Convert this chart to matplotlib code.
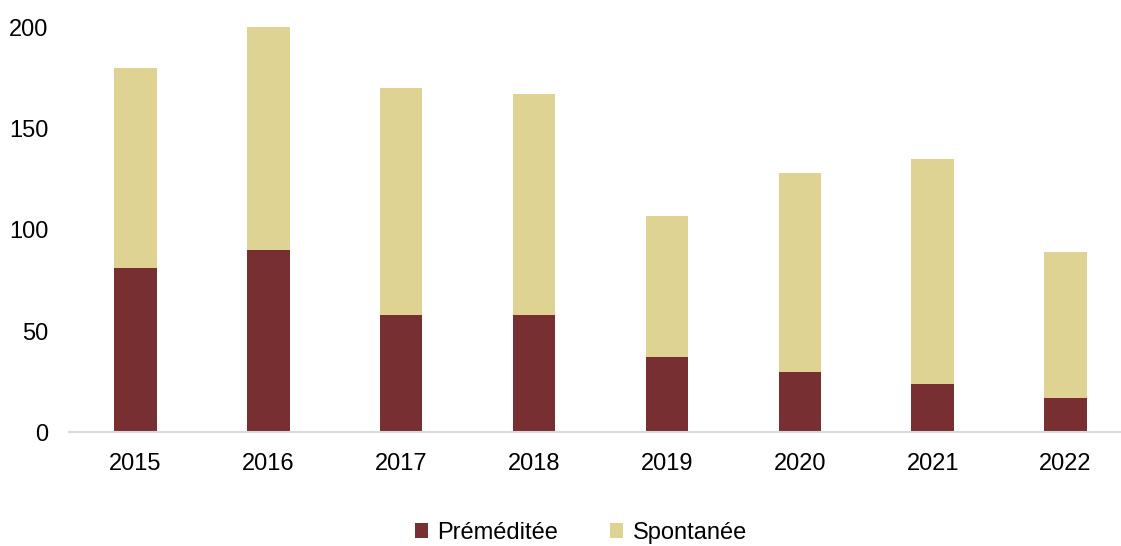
import matplotlib.pyplot as plt
import numpy as np

plt.rcParams['font.family'] = ['Liberation Sans', 'DejaVu Sans']

# donnees
annees = ['2015', '2016', '2017', '2018', '2019', '2020', '2021', '2022']
premeditee = [81, 90, 58, 58, 37, 30, 24, 17]
total = [180, 200, 170, 167, 107, 128, 135, 89]
spontanee = [t - p for t, p in zip(total, premeditee)]

c_prem = '#782F31'
c_spont = '#DED393'

fig = plt.figure(figsize=(11.21, 5.46), dpi=100)
ax = fig.add_axes([0.0616, 0.208, 0.9384, 0.7425])

x = np.arange(len(annees))
w = 0.32
ax.bar(x, premeditee, w, color=c_prem, label='Préméditée')
ax.bar(x, spontanee, w, bottom=premeditee, color=c_spont, label='Spontanée')

ax.set_xlim(-0.5, 7.417)
ax.set_ylim(0, 200)
ax.set_yticks([0, 50, 100, 150, 200])
ax.set_xticks(x)
ax.set_xticklabels(annees)
ax.tick_params(axis='both', length=0, labelsize=17)
ax.tick_params(axis='y', pad=15)
ax.tick_params(axis='x', pad=15)

for s in ['top', 'right', 'left']:
    ax.spines[s].set_visible(False)
ax.spines['bottom'].set_color('#D9D9D9')
ax.spines['bottom'].set_linewidth(1.5)

fig.legend(loc='lower center', bbox_to_anchor=(0.518, -0.035), ncol=2, frameon=False,
           fontsize=17, handlelength=0.55, handleheight=0.55, handletextpad=0.4,
           columnspacing=2.2)

fig.savefig('out.png', dpi=100)
